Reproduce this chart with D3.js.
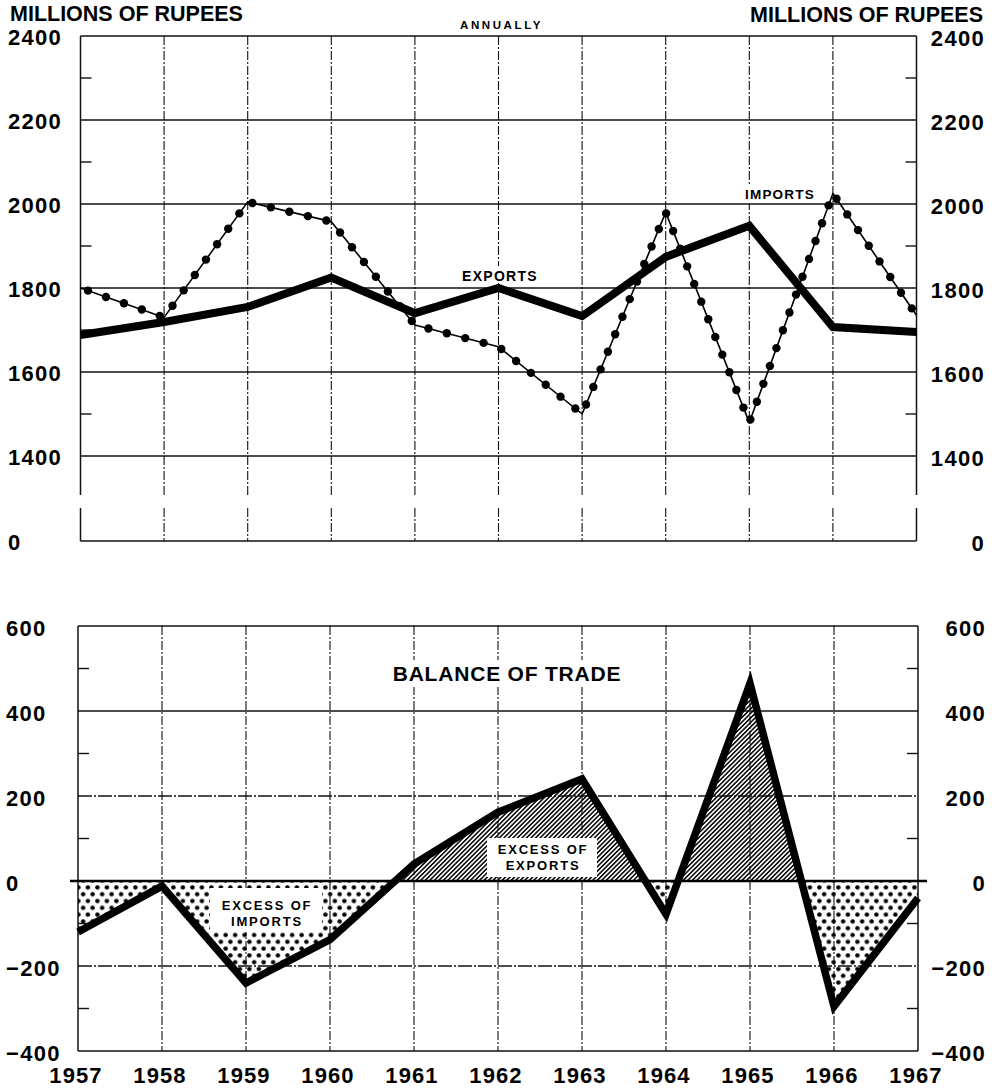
<!DOCTYPE html>
<html><head><meta charset="utf-8">
<script src="https://cdn.jsdelivr.net/npm/d3@7"></script>
<style>
html,body{margin:0;padding:0;background:#fff;}
svg{display:block;}
text{font-family:"Liberation Sans",Arial,sans-serif;font-weight:bold;fill:#000;}
</style>
</head><body>
<svg id="c" width="996" height="1088"></svg>
<script>
// ---------------- DATA ----------------
const years = [1957,1958,1959,1960,1961,1962,1963,1964,1965,1966,1967];
const exportsVals = [1688,1719,1755,1825,1740,1800,1733,1874,1948,1707,1695];
const importsVals = [1800,1730,2005,1958,1712,1660,1500,1980,1480,2025,1735];
const balanceVals = [-120,-12,-240,-138,40,162,240,-78,465,-295,-40];

const topTicks = [0,1400,1600,1800,2000,2200,2400];
const topMinor = [1500,1700,1900,2100,2300];
const botTicks = [-400,-200,0,200,400,600];
const botMinor = [-300,-100,100,300,500];
const botTickLabels = ["\u2212400","\u2212200","0","200","400","600"];

const unitLabel = "MILLIONS OF RUPEES";
const periodLabel = "ANNUALLY";
const exportsLabel = "EXPORTS";
const importsLabel = "IMPORTS";
const balanceTitle = "BALANCE OF TRADE";
const excessExp = ["EXCESS OF","EXPORTS"];
const excessImp = ["EXCESS OF","IMPORTS"];

// ---------------- SETUP ----------------
const svg = d3.select("#c");
const defs = svg.append("defs");

const hatch = defs.append("pattern").attr("id","hatch")
  .attr("patternUnits","userSpaceOnUse").attr("width",3.2).attr("height",6)
  .attr("patternTransform","rotate(45)");
hatch.append("line").attr("x1",1.6).attr("x2",1.6).attr("y1",-1).attr("y2",7)
  .attr("stroke","#000").attr("stroke-width",1.5);

const dots = defs.append("pattern").attr("id","dots")
  .attr("patternUnits","userSpaceOnUse").attr("width",9.5).attr("height",13.6);
dots.append("circle").attr("cx",2.4).attr("cy",3.4).attr("r",2.25).attr("fill","#000");
dots.append("circle").attr("cx",7.15).attr("cy",10.2).attr("r",2.25).attr("fill","#000");

// scales
const xTop = d3.scaleLinear().domain([1957,1967]).range([80.5,916.5]);
const yTop = d3.scaleLinear().domain([0,1300,2400]).range([541,498,36]);
const xBot = d3.scaleLinear().domain([1957,1967]).range([78,918]);
const yBot = d3.scaleLinear().domain([-400,600]).range([1051,626]);

// ---------------- TOP CHART ----------------
const gT = svg.append("g");
const gapA = yTop(1300) - 3, gapB = yTop(1300) + 10;

gT.selectAll("line.hg").data(topTicks).join("line")
  .attr("x1",xTop(1957)).attr("x2",xTop(1967))
  .attr("y1",d=>yTop(d)).attr("y2",d=>yTop(d))
  .attr("stroke","#111").attr("stroke-width",d=>d===0||d===2400?1.6:1.3);

years.forEach((yr,i)=>{
  const edge = (i===0||i===years.length-1);
  [[yTop(2400),gapA],[gapB,yTop(0)]].forEach(([a,b])=>{
    gT.append("line").attr("x1",xTop(yr)).attr("x2",xTop(yr)).attr("y1",a).attr("y2",b)
      .attr("stroke","#111").attr("stroke-width",edge?1.5:1.1)
      .attr("stroke-dasharray",edge?null:"9,2,2,2");
  });
});
topMinor.forEach(v=>{
  gT.append("line").attr("x1",xTop(1957)).attr("x2",xTop(1957)+11).attr("y1",yTop(v)).attr("y2",yTop(v)).attr("stroke","#111").attr("stroke-width",1.4);
  gT.append("line").attr("x1",xTop(1967)-11).attr("x2",xTop(1967)).attr("y1",yTop(v)).attr("y2",yTop(v)).attr("stroke","#111").attr("stroke-width",1.4);
});

gT.append("rect").attr("x",457).attr("y",266).attr("width",84).attr("height",17).attr("fill","#fff");
gT.append("rect").attr("x",738).attr("y",184).attr("width",88).attr("height",19).attr("fill","#fff");

const lineTop = d3.line().x((d,i)=>xTop(years[i])).y(d=>yTop(d));
gT.append("path").datum(exportsVals).attr("d",lineTop)
  .attr("fill","none").attr("stroke","#000").attr("stroke-width",8)
  .attr("stroke-linejoin","miter").attr("stroke-linecap","butt");

const impPath = gT.append("path").datum(importsVals).attr("d",lineTop)
  .attr("fill","none").attr("stroke","#000").attr("stroke-width",1.6)
  .attr("stroke-linejoin","round");
const pNode = impPath.node();
const L = pNode.getTotalLength();
const beads = [];
for (let l = 8; l <= L; l += 19) beads.push(pNode.getPointAtLength(l));
gT.selectAll("circle.bead").data(beads).join("circle")
  .attr("cx",d=>d.x).attr("cy",d=>d.y).attr("r",4.2).attr("fill","#000");

gT.selectAll("text.tl").data(topTicks).join("text")
  .attr("x",8).attr("y",d=>yTop(d)+8.5).attr("font-size",22).attr("letter-spacing",1.3)
  .text(d=>d);
gT.selectAll("text.tr").data(topTicks).join("text")
  .attr("x",985).attr("y",d=>yTop(d)+10).attr("font-size",22).attr("letter-spacing",1.3)
  .attr("text-anchor","end").text(d=>d);

gT.append("text").attr("x",10).attr("y",20.5).attr("font-size",21.5).text(unitLabel);
gT.append("text").attr("x",983).attr("y",21.5).attr("font-size",21.5).attr("text-anchor","end").text(unitLabel);
gT.append("text").attr("x",460).attr("y",29).attr("font-size",11.5).attr("letter-spacing",2.6).text(periodLabel);
gT.append("text").attr("x",462).attr("y",281).attr("font-size",14).attr("letter-spacing",1.3).text(exportsLabel);
gT.append("text").attr("x",745).attr("y",199).attr("font-size",13.5).attr("letter-spacing",1.2).text(importsLabel);

// ---------------- BOTTOM CHART ----------------
const gB = svg.append("g");
gB.selectAll("line.hg").data(botTicks.filter(d=>d!==0)).join("line")
  .attr("x1",xBot(1957)).attr("x2",xBot(1967))
  .attr("y1",d=>yBot(d)).attr("y2",d=>yBot(d))
  .attr("stroke","#111").attr("stroke-width",d=>(d===600||d===-400)?1.6:1.3)
  .attr("stroke-dasharray",d=>(d===200||d===-200)?"14,2,2,2":null);
years.forEach((yr,i)=>{
  const edge = (i===0||i===years.length-1);
  gB.append("line").attr("x1",xBot(yr)).attr("x2",xBot(yr)).attr("y1",yBot(600)).attr("y2",yBot(-400))
    .attr("stroke","#111").attr("stroke-width",edge?1.5:1.1)
    .attr("stroke-dasharray",edge?null:"9,2,2,2");
});
botMinor.forEach(v=>{
  gB.append("line").attr("x1",xBot(1957)).attr("x2",xBot(1957)+11).attr("y1",yBot(v)).attr("y2",yBot(v)).attr("stroke","#111").attr("stroke-width",1.4);
  gB.append("line").attr("x1",xBot(1967)-11).attr("x2",xBot(1967)).attr("y1",yBot(v)).attr("y2",yBot(v)).attr("stroke","#111").attr("stroke-width",1.4);
});

defs.append("clipPath").attr("id","clipPos").append("rect")
  .attr("x",0).attr("y",0).attr("width",996).attr("height",yBot(0));
defs.append("clipPath").attr("id","clipNeg").append("rect")
  .attr("x",0).attr("y",yBot(0)).attr("width",996).attr("height",1088-yBot(0));

const area = d3.area().x((d,i)=>xBot(years[i])).y0(yBot(0)).y1(d=>yBot(d));
gB.append("path").datum(balanceVals).attr("d",area).attr("fill","url(#hatch)").attr("clip-path","url(#clipPos)");
gB.append("path").datum(balanceVals).attr("d",area).attr("fill","url(#dots)").attr("clip-path","url(#clipNeg)");

gB.append("rect").attr("x",487).attr("y",838).attr("width",110).attr("height",39).attr("fill","#fff");
gB.append("rect").attr("x",210).attr("y",888).attr("width",112).attr("height",44).attr("fill","#fff");
gB.append("rect").attr("x",388).attr("y",660).attr("width",238).attr("height",27).attr("fill","#fff");

gB.append("line").attr("x1",xBot(1957)-8).attr("x2",xBot(1967)+9)
  .attr("y1",yBot(0)).attr("y2",yBot(0)).attr("stroke","#000").attr("stroke-width",2.4);

const lineBot = d3.line().x((d,i)=>xBot(years[i])).y(d=>yBot(d));
gB.append("path").datum(balanceVals).attr("d",lineBot)
  .attr("fill","none").attr("stroke","#000").attr("stroke-width",7.5)
  .attr("stroke-linejoin","miter").attr("stroke-miterlimit",6).attr("stroke-linecap","butt");

gB.selectAll("text.tl").data(botTicks).join("text")
  .attr("x",6).attr("y",d=>yBot(d)+10).attr("font-size",22).attr("letter-spacing",1.3)
  .text((d,i)=>botTickLabels[i]);
gB.selectAll("text.tr").data(botTicks).join("text")
  .attr("x",986).attr("y",d=>yBot(d)+10).attr("font-size",22).attr("letter-spacing",1.3)
  .attr("text-anchor","end").text((d,i)=>botTickLabels[i]);

gB.selectAll("text.yr").data(years).join("text")
  .attr("x",d=>xBot(d)-2).attr("y",1082.5).attr("font-size",22).attr("letter-spacing",1.1)
  .attr("text-anchor","middle").text(d=>d);

gB.append("text").attr("x",507).attr("y",681).attr("font-size",21).attr("letter-spacing",0.8)
  .attr("text-anchor","middle").text(balanceTitle);
excessExp.forEach((t,i)=>{
  gB.append("text").attr("x",543).attr("y",854+i*15.5).attr("font-size",13).attr("letter-spacing",1.8)
    .attr("text-anchor","middle").text(t);
});
excessImp.forEach((t,i)=>{
  gB.append("text").attr("x",267).attr("y",910+i*16).attr("font-size",13).attr("letter-spacing",1.8)
    .attr("text-anchor","middle").text(t);
});
</script>
</body></html>
